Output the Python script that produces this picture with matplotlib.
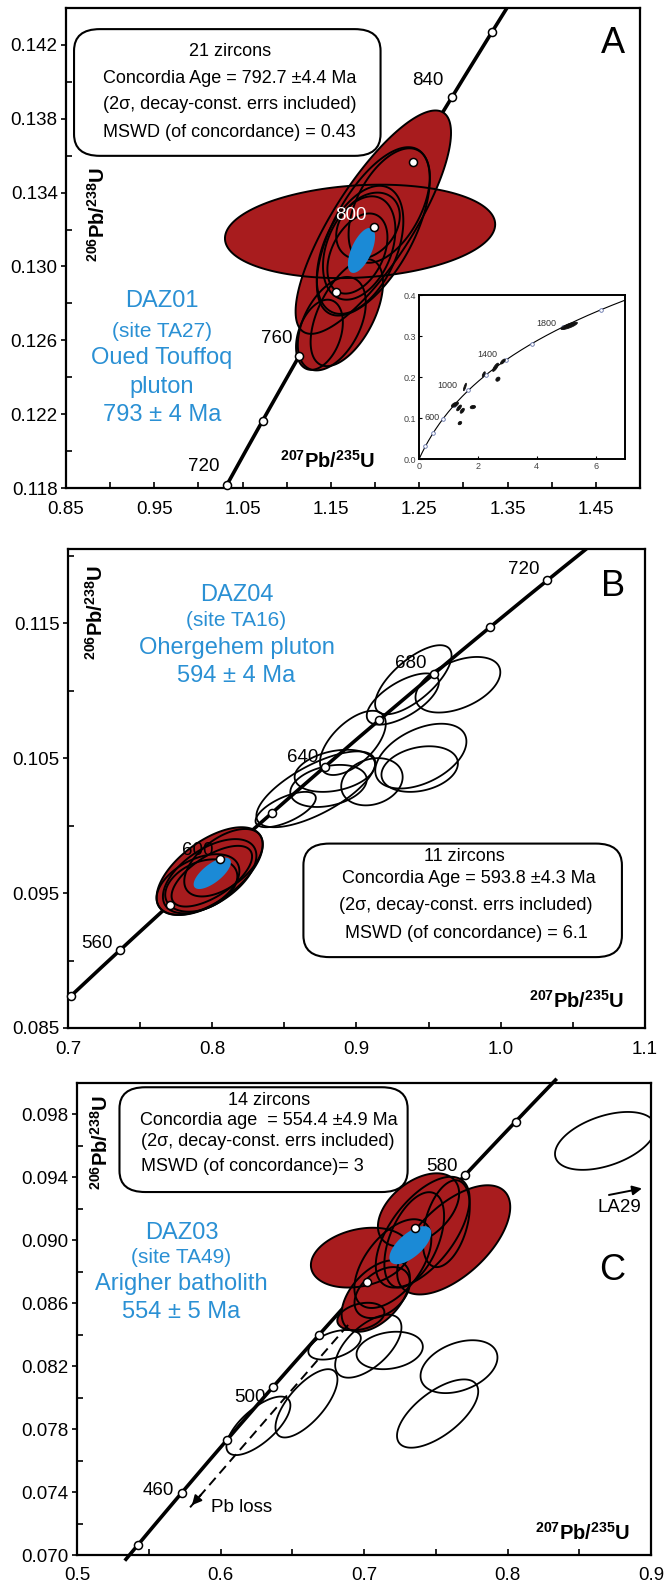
import numpy as np
import matplotlib
matplotlib.use("Agg")
import matplotlib.pyplot as plt
from matplotlib.patches import Polygon, FancyBboxPatch
from matplotlib.ticker import FixedLocator

plt.rcParams['font.family'] = ['Liberation Sans', 'DejaVu Sans']
plt.rcParams['mathtext.fontset'] = 'custom'
plt.rcParams['mathtext.rm'] = 'Liberation Sans'
plt.rcParams['mathtext.bf'] = 'Liberation Sans:bold'

# ---------------- data ----------------
L238 = 1.55125e-10
L235 = 9.8485e-10

RED = '#a81c1e'
BLUE = '#1b8ad6'
BLUE_TXT = '#2a90d4'

# Panel A
a_xticks = [0.85, 0.95, 1.05, 1.15, 1.25, 1.35, 1.45]
a_xticklabels = ['0.85', '0.95', '1.05', '1.15', '1.25', '1.35', '1.45']
a_yticks = [0.118, 0.122, 0.126, 0.130, 0.134, 0.138, 0.142]
a_yticklabels = ['0.118', '0.122', '0.126', '0.130', '0.134', '0.138', '0.142']
a_marker_ages = [720, 740, 760, 780, 800, 820, 840, 860]
a_label_ages = ['720', '760', '800', '840']
a_label_x = [1.0065, 1.0883, 1.1726, 1.2592]
a_label_y = [0.11917, 0.12612, 0.13275, 0.14006]
a_label_col = ['black', 'black', 'white', 'black']
a_red_x = [1.183, 1.198, 1.137, 1.168, 1.198, 1.183, 1.182, 1.180, 1.216, 1.192, 1.151]
a_red_y = [0.1319, 0.1324, 0.1263, 0.1275, 0.1319, 0.1309, 0.1310, 0.1307, 0.1333, 0.1322, 0.1269]
a_red_hx = [0.153, 0.088, 0.0265, 0.041, 0.064, 0.049, 0.041, 0.034, 0.046, 0.036, 0.0385]
a_red_hy = [0.00253, 0.00605, 0.0019, 0.0029, 0.00456, 0.00347, 0.0028, 0.00217, 0.0031, 0.0018, 0.00253]
a_red_rho = [0.15, 0.8, 0.35, 0.55, 0.62, 0.45, 0.35, 0.4, 0.5, 0.3, 0.45]
a_blue = (1.1846, 0.13087, 0.0154, 0.00122, 0.6)
a_box_lines = ['21 zircons', 'Concordia Age = 792.7 \u00b14.4 Ma',
               '(2\u03c3, decay-const. errs included)', 'MSWD (of concordance) = 0.43']
a_name_lines = ['DAZ01', '(site TA27)', 'Oued Touffoq', 'pluton', '793 \u00b1 4 Ma']

# inset of panel A
in_xticks = [0, 2, 4, 6]
in_yticks = [0.0, 0.1, 0.2, 0.3, 0.4]
in_yticklabels = ['0.0', '0.1', '0.2', '0.3', '0.4']
in_marker_ages = [200, 400, 600, 800, 1000, 1200, 1400, 1600, 1800, 2000]
in_labels = ['600', '1000', '1400', '1800']
in_label_x = [0.45, 0.95, 2.31, 4.33]
in_label_y = [0.101, 0.179, 0.255, 0.331]
in_ell_x = [5.1, 2.6, 2.85, 2.68, 1.83, 1.39, 1.22, 1.36, 1.47, 1.56, 2.2]
in_ell_y = [0.325, 0.224, 0.238, 0.195, 0.127, 0.088, 0.133, 0.125, 0.118, 0.176, 0.207]
in_ell_hx = [0.28, 0.10, 0.08, 0.07, 0.09, 0.06, 0.12, 0.08, 0.07, 0.05, 0.05]
in_ell_hy = [0.009, 0.010, 0.006, 0.005, 0.004, 0.004, 0.006, 0.007, 0.006, 0.009, 0.006]
in_ell_rho = [0.8, 0.8, 0.7, 0.3, 0.2, 0.3, 0.6, 0.7, 0.6, 0.8, 0.7]

# Panel B
b_xticks = [0.7, 0.8, 0.9, 1.0, 1.1]
b_xticklabels = ['0.7', '0.8', '0.9', '1.0', '1.1']
b_yticks = [0.085, 0.095, 0.105, 0.115]
b_yticklabels = ['0.085', '0.095', '0.105', '0.115']
b_marker_ages = [540, 560, 580, 600, 620, 640, 660, 680, 700, 720]
b_label_ages = ['720', '680', '640', '600', '560']
b_label_x = [1.0159, 0.9379, 0.8624, 0.7900, 0.7203]
b_label_y = [0.1190, 0.1120, 0.10508, 0.09813, 0.09125]
b_red_x = [0.7982, 0.7982, 0.7901, 0.8078, 0.7924, 0.7997]
b_red_y = [0.09663, 0.09625, 0.09563, 0.09725, 0.09556, 0.09625]
b_red_hx = [0.0368, 0.0324, 0.0287, 0.0272, 0.0250, 0.0279]
b_red_hy = [0.00325, 0.00275, 0.00225, 0.0025, 0.00194, 0.00225]
b_red_rho = [0.6, 0.55, 0.45, 0.55, 0.35, 0.65]
b_blue = (0.8, 0.09646, 0.0129, 0.00116, 0.7)
b_open_x = [0.8509, 0.8718, 0.8806, 0.9107, 0.8975, 0.9394, 0.9703, 0.9446, 0.9438, 0.8850, 0.9321]
b_open_y = [0.10119, 0.10269, 0.10294, 0.10325, 0.10613, 0.11081, 0.11044, 0.10515, 0.10419, 0.10406, 0.10938]
b_open_hx = [0.0209, 0.0412, 0.0265, 0.0213, 0.0228, 0.0265, 0.0294, 0.0316, 0.0265, 0.0279, 0.0250]
b_open_hy = [0.00131, 0.00281, 0.00156, 0.00175, 0.00238, 0.00256, 0.00206, 0.0024, 0.00169, 0.00156, 0.0019]
b_open_rho = [0.65, 0.7, 0.3, 0.2, 0.6, 0.7, 0.45, 0.45, 0.25, 0.3, 0.65]
b_box_lines = ['11 zircons', 'Concordia Age = 593.8 \u00b14.3 Ma',
               '(2\u03c3, decay-const. errs included)', 'MSWD (of concordance) = 6.1']
b_name_lines = ['DAZ04', '(site TA16)', 'Ohergehem pluton', '594 \u00b1 4 Ma']

# Panel C
c_xticks = [0.5, 0.6, 0.7, 0.8, 0.9]
c_xticklabels = ['0.5', '0.6', '0.7', '0.8', '0.9']
c_yticks = [0.070, 0.074, 0.078, 0.082, 0.086, 0.090, 0.094, 0.098]
c_yticklabels = ['0.070', '0.074', '0.078', '0.082', '0.086', '0.090', '0.094', '0.098']
c_marker_ages = [440, 460, 480, 500, 520, 540, 560, 580, 600]
c_label_ages = ['580', '500', '460']
c_label_x = [0.7543, 0.6205, 0.5565]
c_label_y = [0.0947, 0.07998, 0.07407]
c_red_x = [0.6975, 0.7625, 0.7201, 0.7409, 0.7573, 0.7127, 0.6978, 0.7380, 0.7082, 0.7350]
c_red_y = [0.08890, 0.09003, 0.08852, 0.09052, 0.09106, 0.08668, 0.08516, 0.09193, 0.08646, 0.09003]
c_red_hx = [0.0345, 0.0394, 0.0268, 0.0327, 0.0164, 0.0193, 0.0164, 0.0283, 0.0238, 0.0208]
c_red_hy = [0.0019, 0.00347, 0.00282, 0.00352, 0.00276, 0.00162, 0.00087, 0.00233, 0.00227, 0.00303]
c_red_rho = [0.25, 0.6, 0.55, 0.6, 0.4, 0.4, 0.3, 0.45, 0.5, 0.5]
c_blue = (0.7323, 0.08969, 0.0146, 0.00121, 0.65)
c_open_x = [0.8681, 0.7030, 0.7179, 0.6795, 0.6599, 0.6264, 0.7662, 0.7513]
c_open_y = [0.09632, 0.08327, 0.08300, 0.08336, 0.07964, 0.07821, 0.08197, 0.07899]
c_open_hx = [0.0350, 0.0231, 0.0231, 0.0183, 0.0216, 0.0223, 0.0268, 0.0283]
c_open_hy = [0.00184, 0.0020, 0.00119, 0.00094, 0.00217, 0.00186, 0.00168, 0.00217]
c_open_rho = [0.45, 0.6, 0.2, 0.45, 0.7, 0.7, 0.35, 0.65]
c_pbloss = ([0.6889, 0.5788], [0.08462, 0.07303])
c_la29 = ([0.8688, 0.8956], [0.09285, 0.09333])
c_box_lines = ['14 zircons', 'Concordia age  = 554.4 \u00b14.9 Ma',
               '(2\u03c3, decay-const. errs included)', 'MSWD (of concordance)= 3']
c_name_lines = ['DAZ03', '(site TA49)', 'Arigher batholith', '554 \u00b1 5 Ma']


# ---------------- helpers ----------------
def concordia(t_ma):
    t = np.asarray(t_ma, dtype=float) * 1e6
    return np.exp(L235 * t) - 1, np.exp(L238 * t) - 1


def ellipse_xy(cx, cy, hx, hy, rho, n=160):
    th = np.linspace(0, 2 * np.pi, n)
    x = cx + hx * np.cos(th)
    y = cy + hy * (rho * np.cos(th) + np.sqrt(1 - rho ** 2) * np.sin(th))
    return np.column_stack([x, y])


def draw_filled(ax, xs, ys, hxs, hys, rhos, fc, zf=2.0, ze=2.5, lw=1.4):
    pts = [ellipse_xy(*p) for p in zip(xs, ys, hxs, hys, rhos)]
    for p in pts:
        ax.add_patch(Polygon(p, closed=True, fc=fc, ec='none', zorder=zf))
    for p in pts:
        ax.add_patch(Polygon(p, closed=True, fill=False, ec='black', lw=lw, zorder=ze))


def draw_open(ax, xs, ys, hxs, hys, rhos, lw=1.3, z=2.2):
    for p in zip(xs, ys, hxs, hys, rhos):
        ax.add_patch(Polygon(ellipse_xy(*p), closed=True, fill=False, ec='black', lw=lw, zorder=z))


def setup_axes(ax, xlim, ylim, xt, xtl, xminor, yt, ytl, yminor):
    ax.set_xlim(*xlim)
    ax.set_ylim(*ylim)
    ax.xaxis.set_major_locator(FixedLocator(xt))
    ax.set_xticklabels(xtl)
    ax.xaxis.set_minor_locator(FixedLocator(xminor))
    ax.yaxis.set_major_locator(FixedLocator(yt))
    ax.set_yticklabels(ytl)
    ax.yaxis.set_minor_locator(FixedLocator(yminor))
    ax.tick_params(axis='x', which='both', direction='in', length=4.5, width=1.2,
                   pad=9, labelsize=13.5)
    ax.tick_params(axis='y', which='major', direction='out', length=3.5, width=1.2,
                   pad=2.5, labelsize=13.5)
    ax.tick_params(axis='y', which='minor', direction='in', length=4, width=1.2)
    for s in ax.spines.values():
        s.set_linewidth(1.6)


def draw_concordia(ax, t0, t1, marker_ages, clip=True, lw=2.6):
    t = np.linspace(t0, t1, 400)
    x, y = concordia(t)
    ax.plot(x, y, color='black', lw=lw, zorder=1.5, clip_on=clip, solid_capstyle='butt')
    mx, my = concordia(marker_ages)
    ax.plot(mx, my, 'o', ms=5.8, mfc='white', mec='black', mew=1.1, zorder=5, clip_on=False)


def axis_labels(ax, yl_pos, xl_pos):
    ax.text(yl_pos[0], yl_pos[1], r'$\mathbf{^{206}Pb/^{238}U}$', rotation=90,
            transform=ax.transAxes, ha='center', va='center', fontsize=14.5, zorder=7)
    ax.text(xl_pos[0], xl_pos[1], r'$\mathbf{^{207}Pb/^{235}U}$',
            transform=ax.transAxes, ha='center', va='center', fontsize=14.5, zorder=7)


def text_box(ax, x0, y0, w, h, lines, xs, ys, fs=13):
    ax.add_patch(FancyBboxPatch((x0, y0), w, h, boxstyle='round,pad=0,rounding_size=0.045',
                                transform=ax.transAxes, fc='white', ec='black', lw=1.5,
                                zorder=6, mutation_aspect=1.0))
    for line, x, y in zip(lines, xs, ys):
        ax.text(x, y, line, transform=ax.transAxes, ha='center', va='center',
                fontsize=fs, zorder=7)


def name_block(ax, lines, x, ys, sizes):
    for line, y, s in zip(lines, ys, sizes):
        ax.text(x, y, line, transform=ax.transAxes, ha='center', va='center',
                fontsize=s, color=BLUE_TXT, zorder=7)


W, H = 668, 1584
fig = plt.figure(figsize=(W / 100, H / 100), dpi=100)


def rect(l, r, t, b):
    return [l / W, 1 - b / H, (r - l) / W, (b - t) / H]


# ---------------- Panel A ----------------
ax = fig.add_axes(rect(66, 640, 8, 488))
setup_axes(ax, (0.85, 1.50), (0.118, 0.144), a_xticks, a_xticklabels,
           [0.90, 1.00, 1.10, 1.20, 1.30, 1.40, 1.50],
           a_yticks, a_yticklabels, [0.120, 0.124, 0.128, 0.132, 0.136, 0.140])
draw_concordia(ax, 718, 880, a_marker_ages)
draw_filled(ax, a_red_x, a_red_y, a_red_hx, a_red_hy, a_red_rho, RED)
ax.add_patch(Polygon(ellipse_xy(*a_blue), closed=True, fc=BLUE, ec='none', zorder=3))
for s, x, y, c in zip(a_label_ages, a_label_x, a_label_y, a_label_col):
    ax.text(x, y, s, ha='center', va='center', fontsize=13.5, color=c, zorder=6)
text_box(ax, 0.014, 0.692, 0.534, 0.264, a_box_lines,
         [0.285, 0.285, 0.285, 0.285], [0.910, 0.854, 0.799, 0.741])
name_block(ax, a_name_lines, 0.167, [0.389, 0.327, 0.271, 0.211, 0.152],
           [17, 15, 17, 17, 17])
axis_labels(ax, (0.055, 0.57), (0.455, 0.056))
ax.text(0.953, 0.925, 'A', transform=ax.transAxes, ha='center', va='center', fontsize=26)

# inset
axi = ax.inset_axes([0.615, 0.06, 0.359, 0.342])
axi.set_xlim(0, 7)
axi.set_ylim(0, 0.4)
axi.set_xticks(in_xticks)
axi.set_yticks(in_yticks)
axi.set_yticklabels(in_yticklabels)
axi.tick_params(which='both', direction='in', length=2.5, width=0.8, labelsize=6.5,
                labelcolor='#444444', pad=2)
for s in axi.spines.values():
    s.set_linewidth(1.4)
ti = np.linspace(0, 2200, 300)
xi, yi = concordia(ti)
axi.plot(xi, yi, color='black', lw=0.8, zorder=2)
mxi, myi = concordia(in_marker_ages)
axi.plot(mxi, myi, 'o', ms=2.6, mfc='white', mec='#6070a8', mew=0.6, zorder=3)
for p in zip(in_ell_x, in_ell_y, in_ell_hx, in_ell_hy, in_ell_rho):
    axi.add_patch(Polygon(ellipse_xy(*p), closed=True, fc='#111111', ec='#111111', lw=0.6, zorder=4))
for s, x, y in zip(in_labels, in_label_x, in_label_y):
    axi.text(x, y, s, fontsize=6.5, color='#333333', ha='center', va='center', zorder=5)

# ---------------- Panel B ----------------
ax = fig.add_axes(rect(68, 645, 549, 1028))
setup_axes(ax, (0.7, 1.1), (0.085, 0.1205), b_xticks, b_xticklabels,
           [0.75, 0.85, 0.95, 1.05], b_yticks, b_yticklabels, [0.090, 0.100, 0.110, 0.120])
draw_concordia(ax, 540, 740, b_marker_ages)
draw_open(ax, b_open_x, b_open_y, b_open_hx, b_open_hy, b_open_rho)
draw_filled(ax, b_red_x, b_red_y, b_red_hx, b_red_hy, b_red_rho, RED)
ax.add_patch(Polygon(ellipse_xy(*b_blue), closed=True, fc=BLUE, ec='none', zorder=3))
for s, x, y in zip(b_label_ages, b_label_x, b_label_y):
    ax.text(x, y, s, ha='center', va='center', fontsize=13.5, zorder=6)
text_box(ax, 0.408, 0.148, 0.552, 0.237, b_box_lines,
         [0.687, 0.695, 0.69, 0.69], [0.357, 0.312, 0.255, 0.197])
name_block(ax, b_name_lines, 0.292, [0.905, 0.850, 0.793, 0.735], [17, 15, 17, 17])
axis_labels(ax, (0.048, 0.868), (0.882, 0.057))
ax.text(0.945, 0.922, 'B', transform=ax.transAxes, ha='center', va='center', fontsize=26)

# ---------------- Panel C ----------------
ax = fig.add_axes(rect(77, 651, 1083, 1555))
setup_axes(ax, (0.5, 0.9), (0.070, 0.100), c_xticks, c_xticklabels,
           [0.55, 0.65, 0.75, 0.85], c_yticks, c_yticklabels,
           [0.072, 0.076, 0.080, 0.084, 0.088, 0.092, 0.096, 0.100])
draw_concordia(ax, 434, 616, c_marker_ages, clip=False)
draw_open(ax, c_open_x, c_open_y, c_open_hx, c_open_hy, c_open_rho)
draw_filled(ax, c_red_x, c_red_y, c_red_hx, c_red_hy, c_red_rho, RED)
ax.add_patch(Polygon(ellipse_xy(*c_blue), closed=True, fc=BLUE, ec='none', zorder=3))
for s, x, y in zip(c_label_ages, c_label_x, c_label_y):
    ax.text(x, y, s, ha='center', va='center', fontsize=13.5, zorder=6)
# Pb-loss dashed arrow
px, py = c_pbloss
ax.plot(px, py, color='black', lw=1.4, ls=(0, (5, 3)), zorder=2.1)
ax.annotate('', xy=(px[1], py[1]),
            xytext=(px[1] + 0.08 * (px[0] - px[1]), py[1] + 0.08 * (py[0] - py[1])),
            arrowprops=dict(arrowstyle='-|>', color='black', lw=1.4, mutation_scale=14),
            zorder=4)
ax.text(0.5937, 0.07303, 'Pb loss', ha='left', va='center', fontsize=13.5)
lx, ly = c_la29
ax.annotate('', xy=(lx[1], ly[1]), xytext=(lx[0], ly[0]),
            arrowprops=dict(arrowstyle='-|>', color='black', lw=1.4, mutation_scale=14))
ax.text(0.8777, 0.0921, 'LA29', ha='center', va='center', fontsize=13.5)
text_box(ax, 0.074, 0.769, 0.502, 0.222, c_box_lines,
         [0.335, 0.335, 0.333, 0.305], [0.962, 0.921, 0.877, 0.823])
name_block(ax, c_name_lines, 0.182, [0.682, 0.630, 0.574, 0.515], [17, 15, 17, 17])
axis_labels(ax, (0.041, 0.875), (0.881, 0.047))
ax.text(0.933, 0.603, 'C', transform=ax.transAxes, ha='center', va='center', fontsize=26)

fig.savefig('out.png', dpi=100)
